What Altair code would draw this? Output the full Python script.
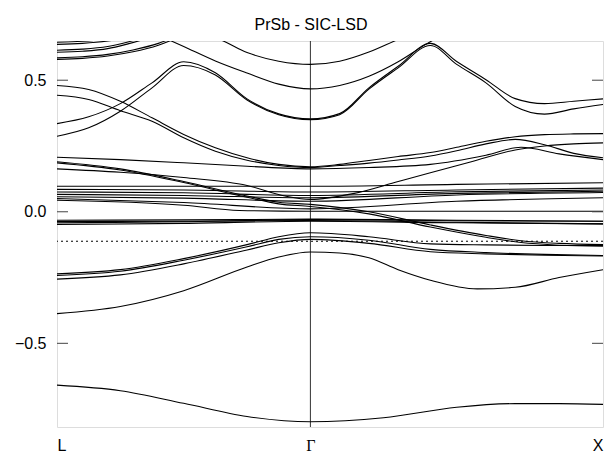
import altair as alt
import pandas as pd

# High-symmetry points of the fcc path L - Γ - X (units of 2π/a)
K_L, K_G, K_X = 0.0, 0.866, 1.866
K_TICKS = [K_L, K_G, K_X]
K_NAMES = ["L", "Γ", "X"]

E_FERMI = -0.112
E_MIN, E_MAX = -0.818, 0.649
Y_TICKS = [-0.5, 0.0, 0.5]

# Bands as (p, E): p = -1 at L, 0 at Γ, +1 at X
TOP_LEFT = [
    [(-1, 0.644), (-0.9, 0.648), (-0.8, 0.656), (-0.7, 0.670)],
    [(-1, 0.636), (-0.9, 0.640), (-0.8, 0.649), (-0.7, 0.665)],
    [(-1, 0.614), (-0.9, 0.618), (-0.8, 0.628), (-0.72, 0.645), (-0.6, 0.680)],
    [(-1, 0.606), (-0.9, 0.610), (-0.8, 0.620), (-0.72, 0.638), (-0.6, 0.672)],
    [(-1, 0.585), (-0.9, 0.589), (-0.8, 0.598), (-0.7, 0.615), (-0.6, 0.640), (-0.5, 0.680)],
    [(-1, 0.579), (-0.9, 0.583), (-0.8, 0.592), (-0.7, 0.608), (-0.6, 0.633), (-0.5, 0.672)],
]

CONDUCTION = [
    [(-0.55, 0.68), (-0.375, 0.66), (-0.25, 0.605), (-0.125, 0.572), (0, 0.56),
     (0.1, 0.572), (0.2, 0.607), (0.3, 0.655), (0.4, 0.70)],
    [(-0.62, 0.68), (-0.5, 0.628), (-0.375, 0.573), (-0.25, 0.527), (-0.125, 0.485), (0, 0.467),
     (0.1, 0.48), (0.2, 0.515), (0.3, 0.57), (0.4, 0.64), (0.5, 0.70)],
    [(-1, 0.335), (-0.875, 0.361), (-0.75, 0.411), (-0.625, 0.49), (-0.5, 0.57), (-0.375, 0.528),
     (-0.25, 0.429), (-0.125, 0.372), (0, 0.353), (0.1, 0.373), (0.2, 0.471), (0.3, 0.553),
     (0.41, 0.64), (0.5, 0.571), (0.6, 0.502), (0.7, 0.43), (0.8, 0.411), (0.9, 0.42), (1, 0.429)],
    [(-1, 0.287), (-0.875, 0.319), (-0.75, 0.382), (-0.625, 0.471), (-0.5, 0.556), (-0.375, 0.52),
     (-0.25, 0.425), (-0.125, 0.369), (0, 0.35), (0.1, 0.369), (0.2, 0.466), (0.3, 0.547),
     (0.41, 0.632), (0.5, 0.56), (0.6, 0.49), (0.7, 0.40), (0.8, 0.371), (0.9, 0.391), (1, 0.408)],
]

MIDDLE = [
    [(-1, 0.48), (-0.875, 0.465), (-0.75, 0.42), (-0.625, 0.357), (-0.5, 0.294), (-0.375, 0.243),
     (-0.25, 0.205), (-0.125, 0.18), (0, 0.171), (0.1, 0.18), (0.2, 0.195), (0.3, 0.21),
     (0.41, 0.225), (0.5, 0.245), (0.6, 0.268), (0.7, 0.285), (0.8, 0.293), (0.9, 0.296), (1, 0.297)],
    [(-1, 0.443), (-0.875, 0.427), (-0.75, 0.384), (-0.625, 0.344), (-0.5, 0.281), (-0.375, 0.23),
     (-0.25, 0.196), (-0.125, 0.176), (0, 0.168), (0.1, 0.176), (0.2, 0.185), (0.3, 0.197),
     (0.41, 0.212), (0.5, 0.232), (0.6, 0.258), (0.7, 0.275), (0.8, 0.255), (0.9, 0.222), (1, 0.205)],
    [(-1, 0.207), (-0.75, 0.198), (-0.5, 0.186), (-0.25, 0.173), (0, 0.163), (0.2, 0.168),
     (0.41, 0.18), (0.6, 0.215), (0.72, 0.245), (0.85, 0.22), (1, 0.198)],
    [(-1, 0.163), (-0.75, 0.15), (-0.5, 0.13), (-0.25, 0.1), (-0.1, 0.06), (0, 0.047),
     (0.15, 0.07), (0.3, 0.115), (0.41, 0.148), (0.55, 0.19), (0.7, 0.235), (0.8, 0.25),
     (0.9, 0.258), (1, 0.262)],
    [(-1, 0.19), (-0.75, 0.163), (-0.5, 0.115), (-0.25, 0.06), (-0.125, 0.036), (0, 0.028),
     (0.2, 0.0), (0.41, -0.05), (0.6, -0.09), (0.72, -0.11), (0.85, -0.12), (1, -0.125)],
    [(-1, 0.186), (-0.75, 0.159), (-0.5, 0.111), (-0.25, 0.055), (-0.125, 0.03), (0, 0.02),
     (0.2, -0.008), (0.41, -0.058), (0.6, -0.097), (0.72, -0.117), (0.85, -0.127), (1, -0.131)],
]

# Flat 4f levels around the zero of energy
F_LEVELS = [
    [(-1, 0.097), (-0.5, 0.097), (0, 0.097), (0.5, 0.104), (1, 0.11)],
    [(-1, 0.085), (-0.5, 0.083), (0, 0.075), (0.5, 0.083), (1, 0.09)],
    [(-1, 0.075), (-0.5, 0.072), (0, 0.062), (0.5, 0.076), (1, 0.083)],
    [(-1, 0.066), (-0.5, 0.062), (0, 0.053), (0.5, 0.07), (1, 0.078)],
    [(-1, 0.057), (-0.5, 0.052), (0, 0.04), (0.5, 0.064), (1, 0.073)],
    [(-1, 0.044), (-0.5, 0.025), (-0.28, 0.005), (0, 0.002), (0.5, 0.002), (1, 0.002)],
    [(-1, 0.05), (-0.5, 0.035), (0, 0.011), (0.5, 0.04), (1, 0.053)],
    [(-1, -0.032), (-0.5, -0.031), (0, -0.028), (0.5, -0.032), (1, -0.036)],
    [(-1, -0.037), (-0.5, -0.036), (0, -0.033), (0.5, -0.04), (1, -0.046)],
    [(-1, -0.042), (-0.5, -0.038), (0, -0.03), (0.5, -0.034), (1, -0.036)],
    [(-1, -0.048), (-0.5, -0.044), (0, -0.036), (0.5, -0.042), (1, -0.046)],
]

VALENCE = [
    [(-1, -0.236), (-0.75, -0.22), (-0.5, -0.178), (-0.25, -0.125), (-0.125, -0.095), (0, -0.08),
     (0.2, -0.095), (0.41, -0.122), (0.6, -0.126), (0.8, -0.128), (1, -0.128)],
    [(-1, -0.242), (-0.75, -0.226), (-0.5, -0.184), (-0.25, -0.133), (-0.125, -0.105), (0, -0.095),
     (0.2, -0.108), (0.41, -0.143), (0.6, -0.155), (0.8, -0.162), (1, -0.166)],
    [(-1, -0.256), (-0.75, -0.24), (-0.5, -0.198), (-0.25, -0.145), (-0.125, -0.118), (0, -0.105),
     (0.2, -0.12), (0.41, -0.152), (0.6, -0.16), (0.8, -0.165), (1, -0.168)],
    [(-1, -0.387), (-0.75, -0.36), (-0.5, -0.30), (-0.25, -0.21), (-0.125, -0.172), (0, -0.153),
     (0.1, -0.157), (0.2, -0.175), (0.3, -0.22), (0.41, -0.26), (0.57, -0.293), (0.7, -0.287),
     (0.85, -0.25), (1, -0.22)],
    [(-1, -0.659), (-0.75, -0.68), (-0.5, -0.728), (-0.25, -0.778), (0, -0.798), (0.25, -0.783),
     (0.5, -0.743), (0.7, -0.729), (0.85, -0.729), (1, -0.732)],
]


def k_of(p):
    """Map the segment coordinate p onto the path length k."""
    return K_G * (1 + p) if p <= 0 else K_G + p * (K_X - K_G)


rows = []
band_id = 0
for group in (TOP_LEFT, CONDUCTION, MIDDLE, F_LEVELS, VALENCE):
    for band in group:
        for p, e in band:
            rows.append({"band": band_id, "k": k_of(p), "E": e})
        band_id += 1
bands = pd.DataFrame(rows)

W, H = 546, 386
x_scale = alt.Scale(domain=[K_L, K_X], nice=False, zero=False)
y_scale = alt.Scale(domain=[E_MIN, E_MAX], nice=False, zero=False)

label_expr = "datum.value < 0.4 ? 'L' : (datum.value < 1.2 ? 'Γ' : 'X')"
is_gamma = "datum.value > 0.4 && datum.value < 1.2"

x_axis = alt.Axis(values=K_TICKS, labelExpr=label_expr, ticks=False, domain=False, grid=False,
                  labelFontSize=16, labelPadding=10, labelColor="black", title=None,
                  labelFont={"condition": {"test": is_gamma, "value": "Liberation Serif"},
                             "value": "Liberation Sans"})
y_axis = alt.Axis(values=Y_TICKS, format=".1f", ticks=False, domain=False, grid=False,
                  labelFontSize=16, labelPadding=11, labelColor="black", title=None,
                  labelFont="Liberation Sans")

lines = alt.Chart(bands).mark_line(color="black", strokeWidth=1.1, interpolate="monotone",
                                   clip=True).encode(
    x=alt.X("k:Q", scale=x_scale, axis=x_axis),
    y=alt.Y("E:Q", scale=y_scale, axis=y_axis),
    detail="band:N",
)

gamma_line = alt.Chart(pd.DataFrame({"k": [K_G]})).mark_rule(color="#333333", strokeWidth=1).encode(
    x=alt.X("k:Q", scale=x_scale)
)

fermi = alt.Chart(pd.DataFrame({"E": [E_FERMI]})).mark_rule(
    color="black", strokeWidth=1, strokeDash=[2, 3]).encode(
    y=alt.Y("E:Q", scale=y_scale)
)

tick_df = pd.DataFrame({"E": Y_TICKS})
left_ticks = alt.Chart(tick_df).mark_rule(color="#444444", strokeWidth=1).encode(
    y=alt.Y("E:Q", scale=y_scale), x=alt.value(0), x2=alt.value(11))
right_ticks = alt.Chart(tick_df).mark_rule(color="#444444", strokeWidth=1).encode(
    y=alt.Y("E:Q", scale=y_scale), x=alt.value(W - 11), x2=alt.value(W))

chart = alt.layer(gamma_line, fermi, lines, left_ticks, right_ticks).properties(
    width=W,
    height=H,
    title=alt.TitleParams("PrSb - SIC-LSD", fontSize=16, fontWeight="normal", color="black",
                          font="Liberation Sans", anchor="middle", dx=-19, offset=8),
    autosize=alt.AutoSizeParams(type="none"),
    padding={"left": 57, "top": 41, "right": 8, "bottom": 28},
).configure_view(stroke="black", strokeWidth=1.3).configure(background="white")

chart.save("out.html", embed_options={"renderer": "svg", "actions": False})
